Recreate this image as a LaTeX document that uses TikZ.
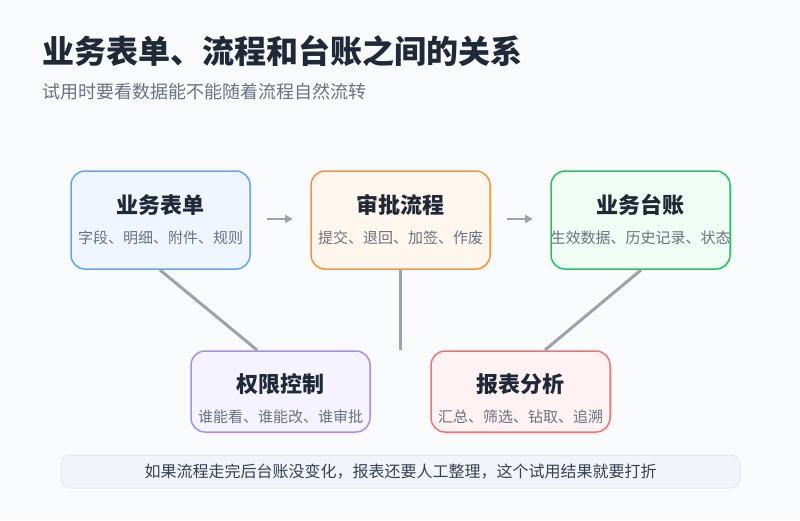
\documentclass[tikz,border=0pt]{standalone}
\usepackage{fontspec}
\setmainfont{Noto Sans CJK SC}
\usetikzlibrary{arrows.meta}
\definecolor{bgc}{HTML}{F8FAFC}
\definecolor{titc}{HTML}{1F2937}
\definecolor{subc}{HTML}{6B7280}
\definecolor{linec}{HTML}{9CA3AF}
\definecolor{bA}{HTML}{60A5FA}\definecolor{fA}{HTML}{EFF6FF}
\definecolor{bB}{HTML}{FB923C}\definecolor{fB}{HTML}{FFF7ED}
\definecolor{bC}{HTML}{22C55E}\definecolor{fC}{HTML}{F0FDF4}
\definecolor{bD}{HTML}{A78BFA}\definecolor{fD}{HTML}{F5F3FF}
\definecolor{bE}{HTML}{F87171}\definecolor{fE}{HTML}{FEF2F2}
\definecolor{footf}{HTML}{F1F5F9}\definecolor{footb}{HTML}{E2E8F0}
\definecolor{foott}{HTML}{374151}
\tikzset{
  card/.style={draw=#1, line width=1.5pt, rounded corners=14pt},
  cardtitle/.style={font=\fontsize{22}{26}\selectfont\bfseries, text=titc},
  cardsub/.style={font=\fontsize{15}{18}\selectfont, text=subc},
  conn/.style={draw=linec, line width=3pt},
  flow/.style={draw=linec, line width=2pt, -{Triangle[length=8pt,width=8pt]}},
}
\begin{document}
\begin{tikzpicture}[x=1pt,y=-1pt]
\fill[bgc] (0,0) rectangle (800,520);
\useasboundingbox (0,0) rectangle (800,520);
\node[anchor=west, font=\fontsize{32}{36}\selectfont\bfseries, text=titc, inner sep=0pt] (title) at (42,51) {业务表单、流程和台账之间的关系};
\node[anchor=west, font=\fontsize{18}{21}\selectfont, text=subc, inner sep=0pt] (subtitle) at (42,92) {试用时要看数据能不能随着流程自然流转};
% cards
\path[card=bA, fill=fA] (71,171) rectangle (250,269);
\path[card=bB, fill=fB] (311,171) rectangle (490,269);
\path[card=bC, fill=fC] (551,171) rectangle (730,269);
\path[card=bD, fill=fD] (191,351) rectangle (370,432);
\path[card=bE, fill=fE] (431,351) rectangle (610,432);
\node[cardtitle] (t1) at (160.5,205) {业务表单};
\node[cardsub] (s1) at (160.5,238) {字段、明细、附件、规则};
\node[cardtitle] (t2) at (400.5,205) {审批流程};
\node[cardsub] (s2) at (400.5,238) {提交、退回、加签、作废};
\node[cardtitle] (t3) at (640.5,205) {业务台账};
\node[cardsub] (s3) at (640.5,238) {生效数据、历史记录、状态};
\node[cardtitle] (t4) at (280.5,384) {权限控制};
\node[cardsub] (s4) at (280.5,417) {谁能看、谁能改、谁审批};
\node[cardtitle] (t5) at (520.5,384) {报表分析};
\node[cardsub] (s5) at (520.5,417) {汇总、筛选、钻取、追溯};
% connectors
\coordinate (a1) at (267,219); \coordinate (a2) at (293,219);
\coordinate (a3) at (507,219); \coordinate (a4) at (533,219);
\draw[flow] (a1) -- (a2);
\draw[flow] (a3) -- (a4);
\coordinate (c1) at (160,270); \coordinate (c2) at (257,350);
\coordinate (c3) at (400,270); \coordinate (c4) at (400,350);
\coordinate (c5) at (641,270); \coordinate (c6) at (545,350);
\draw[conn] (c1) -- (c2);
\draw[conn] (c3) -- (c4);
\draw[conn] (c5) -- (c6);
% footer
\path[draw=footb, fill=footf, line width=1pt, rounded corners=9pt] (61,455) rectangle (740,488);
\node[font=\fontsize{16}{19}\selectfont, text=foott] (foot) at (400.5,471.5) {如果流程走完后台账没变化，报表还要人工整理，这个试用结果就要打折};
\end{tikzpicture}
\end{document}
